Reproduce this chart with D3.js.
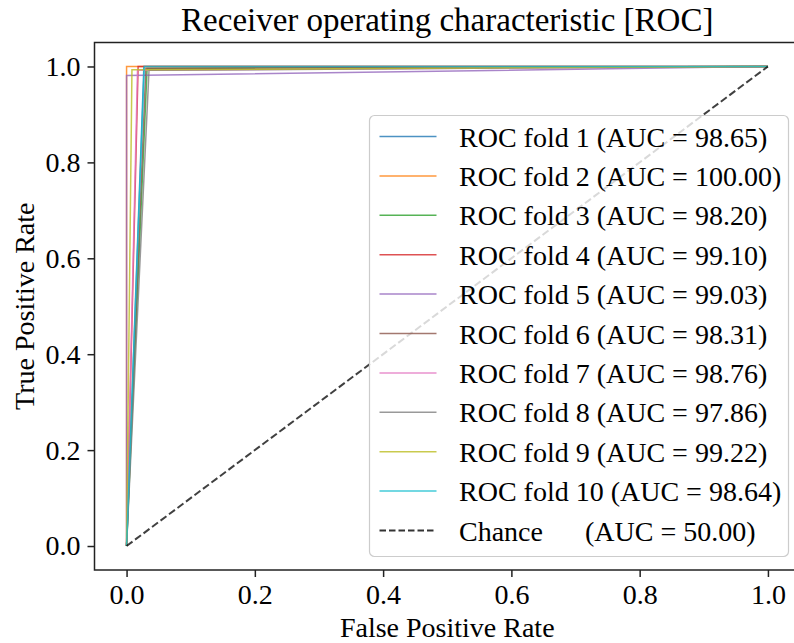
<!DOCTYPE html>
<html>
<head>
<meta charset="utf-8">
<script src="https://cdn.jsdelivr.net/npm/d3@7"></script>
<style>
  body { margin: 0; background: #fff; }
  text { font-family: "Liberation Serif", "DejaVu Serif", serif; }
</style>
</head>
<body>
<div id="canvas"></div>
<script>
width = 794;
height = 643;

// fold labels and AUC values
var foldNames = ["ROC fold 1", "ROC fold 2", "ROC fold 3", "ROC fold 4", "ROC fold 5",
                 "ROC fold 6", "ROC fold 7", "ROC fold 8", "ROC fold 9", "ROC fold 10"];
var aucValues = [98.65, 100.00, 98.20, 99.10, 99.03, 98.31, 98.76, 97.86, 99.22, 98.64];
// the single operating point of each fold
var foldFpr = [0.027, 0.000, 0.032, 0.018, 0.000, 0.030, 0.017, 0.035, 0.0084, 0.0276];
var foldTpr = [1.000, 1.000, 0.996, 1.000, 0.981, 0.996, 0.992, 0.992, 0.993, 1.000];
var colors = ["#1f77b4", "#ff7f0e", "#2ca02c", "#d62728", "#9467bd",
              "#8c564b", "#e377c2", "#7f7f7f", "#bcbd22", "#17becf"];
var chanceAuc = 50.00;
var tickValues = [0.0, 0.2, 0.4, 0.6, 0.8, 1.0];

var margin = { left: 94.5, top: 42.5, right: 800, bottom: 570 };
var fontSize = "28px";

var svg = d3.select("#canvas").append("svg")
  .attr("width", width)
  .attr("height", height)
  .style("background-color", "white");

var x = d3.scaleLinear().domain([-0.05, 1.05]).range([margin.left, margin.right]);
var y = d3.scaleLinear().domain([-0.05, 1.05]).range([margin.bottom, margin.top]);

var line = d3.line().x(function (d) { return x(d[0]); }).y(function (d) { return y(d[1]); });

// ROC curves
foldNames.forEach(function (name, i) {
  var pts = [[0, 0], [foldFpr[i], foldTpr[i]], [1, 1]];
  svg.append("path")
    .attr("d", line(pts))
    .attr("fill", "none")
    .attr("stroke", colors[i])
    .attr("stroke-opacity", 0.8)
    .attr("stroke-width", 1.5);
});

// chance line
svg.append("path")
  .attr("d", line([[0, 0], [1, 1]]))
  .attr("fill", "none")
  .attr("stroke", "#000")
  .attr("stroke-opacity", 0.75)
  .attr("stroke-width", 2)
  .attr("stroke-dasharray", "7.4,3.2");

// axes
var xAxis = svg.append("g")
  .attr("transform", "translate(0," + margin.bottom + ")")
  .call(d3.axisBottom(x).tickValues(tickValues).tickFormat(d3.format(".1f")).tickSize(7).tickPadding(7));
var yAxis = svg.append("g")
  .attr("transform", "translate(" + margin.left + ",0)")
  .call(d3.axisLeft(y).tickValues(tickValues).tickFormat(d3.format(".1f")).tickSize(7).tickPadding(7));

[xAxis, yAxis].forEach(function (a) {
  a.select(".domain").remove();
  a.selectAll(".tick line").attr("stroke", "#222").attr("stroke-width", 1.5);
  a.selectAll(".tick text").attr("fill", "#000").style("font-size", fontSize)
    .style("font-family", "'Liberation Serif', serif");
});

// frame
svg.append("rect")
  .attr("x", margin.left)
  .attr("y", margin.top)
  .attr("width", margin.right - margin.left)
  .attr("height", margin.bottom - margin.top)
  .attr("fill", "none")
  .attr("stroke", "#222")
  .attr("stroke-width", 1.5);

// titles
svg.append("text")
  .attr("x", (margin.left + margin.right) / 2)
  .attr("y", 31)
  .attr("text-anchor", "middle")
  .style("font-size", "33px")
  .text("Receiver operating characteristic [ROC]");

svg.append("text")
  .attr("x", (margin.left + margin.right) / 2)
  .attr("y", 637)
  .attr("text-anchor", "middle")
  .style("font-size", fontSize)
  .text("False Positive Rate");

svg.append("text")
  .attr("transform", "translate(34," + (margin.top + margin.bottom) / 2 + ") rotate(-90)")
  .attr("text-anchor", "middle")
  .style("font-size", fontSize)
  .text("True Positive Rate");

// legend
var legendX = 369.5, legendY = 115.5, legendW = 419, legendH = 441, rowH = 39.4;
svg.append("rect")
  .attr("x", legendX)
  .attr("y", legendY)
  .attr("width", legendW)
  .attr("height", legendH)
  .attr("rx", 5)
  .attr("fill", "white")
  .attr("fill-opacity", 0.8)
  .attr("stroke", "#ccc")
  .attr("stroke-width", 1.2);

var legendRows = foldNames.map(function (n, i) {
  return { label: n + " (AUC = " + aucValues[i].toFixed(2) + ")", color: colors[i], dash: null, w: 1.5 };
});
legendRows.push({ label: "Chance      (AUC = " + chanceAuc.toFixed(2) + ")", color: "#000", dash: "6.5,3", w: 1.8 });

var rows = svg.selectAll(".legendRow")
  .data(legendRows)
  .join("g")
  .attr("class", "legendRow")
  .attr("transform", function (d, i) { return "translate(" + legendX + "," + (legendY + 21 + i * rowH) + ")"; });

rows.append("line")
  .attr("x1", 10).attr("x2", 67)
  .attr("y1", 0).attr("y2", 0)
  .attr("stroke", function (d) { return d.color; })
  .attr("stroke-opacity", 0.8)
  .attr("stroke-width", function (d) { return d.w; })
  .attr("stroke-dasharray", function (d) { return d.dash; });

rows.append("text")
  .attr("x", 89.5)
  .attr("y", 10)
  .style("font-size", fontSize)
  .style("white-space", "pre")
  .attr("xml:space", "preserve")
  .text(function (d) { return d.label; });
</script>
</body>
</html>
